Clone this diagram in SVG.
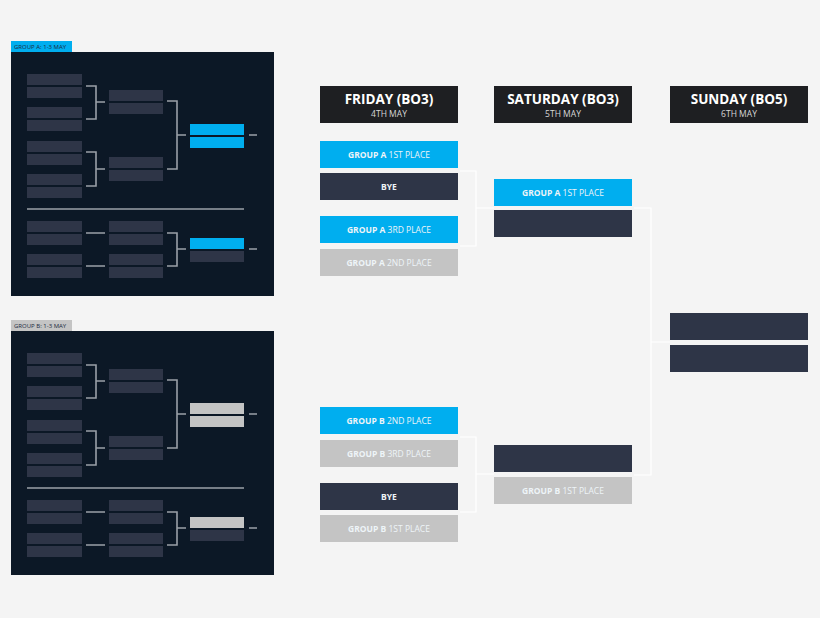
<svg xmlns="http://www.w3.org/2000/svg" width="820" height="618" viewBox="0 0 820 618">
<defs>
<style>
.pn{fill:#0c1826}.d{fill:#2e3547}.b{fill:#00aeef}.g{fill:#c4c4c4}.h{fill:#1e1f22}
.br{fill:none;stroke:#9aa0a8;stroke-width:1.6}
.cn{fill:none;stroke:#ffffff;stroke-width:1.2}
text{font-family:"Open Sans","Liberation Sans",sans-serif;text-anchor:middle;fill:#fff}
.t{font-size:8.5px;font-weight:bold;fill:#eef4f8}.t tspan{font-weight:normal}
.tab{font-size:6px;text-anchor:start;fill:#1a2a40}
.hd{font-size:13.5px;font-weight:bold}.sb{font-size:8.5px;fill:#d8d8d8}
</style>
<g id="grp">
<rect class="pn" x="11" y="52" width="263" height="244"/>
<g class="d">
<rect x="27" y="74" width="55" height="11"/><rect x="27" y="87" width="55" height="11"/>
<rect x="27" y="107" width="55" height="11"/><rect x="27" y="120" width="55" height="11"/>
<rect x="27" y="141" width="55" height="11"/><rect x="27" y="154" width="55" height="11"/>
<rect x="27" y="174" width="55" height="11"/><rect x="27" y="187" width="55" height="11"/>
<rect x="109" y="90" width="54" height="11"/><rect x="109" y="103" width="54" height="11"/>
<rect x="109" y="157" width="54" height="11"/><rect x="109" y="170" width="54" height="11"/>
<rect x="27" y="221" width="55" height="11"/><rect x="27" y="234" width="55" height="11"/>
<rect x="27" y="254" width="55" height="11"/><rect x="27" y="267" width="55" height="11"/>
<rect x="109" y="221" width="54" height="11"/><rect x="109" y="234" width="54" height="11"/>
<rect x="109" y="254" width="54" height="11"/><rect x="109" y="267" width="54" height="11"/>
<rect x="190" y="251" width="54" height="11"/>
</g>
<path class="br" d="M86 86H96V119H86M96 102H105M86 152H96V186H86M96 169H105M167 101H177V169H167M177 135H186M249 135H257M27 209H244M86 233H105M86 266H105M167 233H177V266H167M177 249H186M249 249H257"/>
</g>
</defs>
<rect width="820" height="618" fill="#f4f4f4"/>
<g id="groupA">
<rect x="11" y="41" width="61" height="11" fill="#00aeef"/>
<text class="tab" x="14" y="48.5">GROUP A: 1-3 MAY</text>
<use href="#grp"/>
<rect class="b" x="190" y="124" width="54" height="11"/><rect class="b" x="190" y="137" width="54" height="11"/>
<rect class="b" x="190" y="238" width="54" height="11"/>
</g>
<g id="groupB">
<rect x="11" y="320" width="61" height="11" fill="#c4c4c4"/>
<text class="tab" x="14" y="327.5">GROUP B: 1-3 MAY</text>
<use href="#grp" y="279"/>
<rect class="g" x="190" y="403" width="54" height="11"/><rect class="g" x="190" y="416" width="54" height="11"/>
<rect class="g" x="190" y="517" width="54" height="11"/>
</g>
<g id="connectors">
<path class="cn" d="M460 171H476V246H460M476 208H494M460 437H476V512H460M476 474H494M634 208H651V475H634M651 342H670"/>
</g>
<g id="hFri"><rect class="h" x="320" y="86" width="138" height="37"/><text class="hd" x="389" y="104">FRIDAY (BO3)</text><text class="sb" x="389" y="117">4TH MAY</text></g>
<g id="hSat"><rect class="h" x="494" y="86" width="138" height="37"/><text class="hd" x="563" y="104">SATURDAY (BO3)</text><text class="sb" x="563" y="117">5TH MAY</text></g>
<g id="hSun"><rect class="h" x="670" y="86" width="138" height="37"/><text class="hd" x="739" y="104">SUNDAY (BO5)</text><text class="sb" x="739" y="117">6TH MAY</text></g>
<g id="f1"><rect class="b" x="320" y="141" width="138" height="27"/><text class="t" x="389" y="157.5">GROUP A <tspan>1ST PLACE</tspan></text></g>
<g id="f2"><rect class="d" x="320" y="173" width="138" height="27"/><text class="t" x="389" y="189.5">BYE</text></g>
<g id="f3"><rect class="b" x="320" y="216" width="138" height="27"/><text class="t" x="389" y="232.5">GROUP A <tspan>3RD PLACE</tspan></text></g>
<g id="f4"><rect class="g" x="320" y="249" width="138" height="27"/><text class="t" x="389" y="265.5">GROUP A <tspan>2ND PLACE</tspan></text></g>
<g id="f5"><rect class="b" x="320" y="407" width="138" height="27"/><text class="t" x="389" y="423.5">GROUP B <tspan>2ND PLACE</tspan></text></g>
<g id="f6"><rect class="g" x="320" y="440" width="138" height="27"/><text class="t" x="389" y="456.5">GROUP B <tspan>3RD PLACE</tspan></text></g>
<g id="f7"><rect class="d" x="320" y="483" width="138" height="27"/><text class="t" x="389" y="499.5">BYE</text></g>
<g id="f8"><rect class="g" x="320" y="515" width="138" height="27"/><text class="t" x="389" y="531.5">GROUP B <tspan>1ST PLACE</tspan></text></g>
<g id="s1"><rect class="b" x="494" y="179" width="138" height="27"/><text class="t" x="563" y="195.5">GROUP A <tspan>1ST PLACE</tspan></text></g>
<g id="s2"><rect class="d" x="494" y="210" width="138" height="27"/></g>
<g id="s3"><rect class="d" x="494" y="445" width="138" height="27"/></g>
<g id="s4"><rect class="g" x="494" y="477" width="138" height="27"/><text class="t" x="563" y="493.5">GROUP B <tspan>1ST PLACE</tspan></text></g>
<g id="u1"><rect class="d" x="670" y="313" width="138" height="27"/></g>
<g id="u2"><rect class="d" x="670" y="345" width="138" height="27"/></g>
</svg>
